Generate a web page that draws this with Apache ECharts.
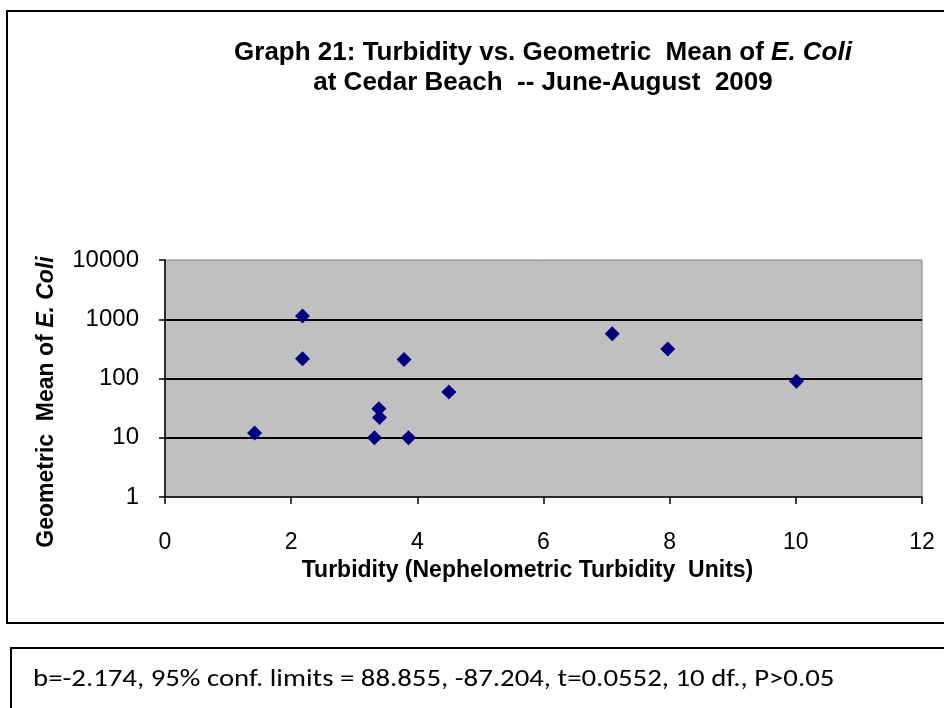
<!DOCTYPE html>
<html>
<head>
<meta charset="utf-8">
<script src="https://cdn.jsdelivr.net/npm/echarts@6/dist/echarts.min.js"></script>
<style>
  html, body { margin: 0; padding: 0; background: #fff; }
  #chart { width: 944px; height: 708px; }
</style>
</head>
<body>
<div id="chart"></div>
<script>
// ---- data ----
var turbidity = [1.42, 2.18, 2.18, 3.32, 3.39, 3.40, 3.79, 3.86, 4.50, 7.09, 7.97, 10.01];
var geoMeanEColi = [12, 1140, 215, 10, 31, 22, 210, 10, 59, 570, 315, 90];
var yGridValues = [10, 100, 1000];
var titleLine1 = 'Graph 21: Turbidity vs. Geometric  Mean of ';
var titleItalic = 'E. Coli';
var titleLine2 = 'at Cedar Beach  -- June-August  2009';
var xTitle = 'Turbidity (Nephelometric Turbidity  Units)';
var yTitle = 'Geometric  Mean of ';
var statsText = 'b=-2.174, 95% conf. limits = 88.855, -87.204, t=0.0552, 10 df., P>0.05';

var points = turbidity.map(function (x, i) { return [x, geoMeanEColi[i]]; });
var FONT = '"Liberation Sans", Arial, sans-serif';

var chart = echarts.init(document.getElementById('chart'), null, { renderer: 'canvas' });
chart.setOption({
  backgroundColor: '#ffffff',
  animation: false,
  grid: {
    left: 165, right: 22, top: 260, bottom: 211,
    show: true, backgroundColor: '#C0C0C0', borderColor: '#808080', borderWidth: 1
  },
  xAxis: {
    type: 'value', min: 0, max: 12, interval: 2,
    name: xTitle, nameLocation: 'middle', nameGap: 62,
    nameTextStyle: { fontFamily: FONT, fontWeight: 'bold', fontSize: 23, color: '#000', padding: [0, 32, 0, 0] },
    axisLine: { show: true, onZero: false, lineStyle: { color: '#000', width: 1.5 } },
    axisTick: { show: true, length: 7, lineStyle: { color: '#000', width: 1.5 } },
    axisLabel: { fontFamily: FONT, fontSize: 23, color: '#000', margin: 34 },
    splitLine: { show: false }
  },
  yAxis: {
    type: 'log', logBase: 10, min: 1, max: 10000,
    axisLine: { show: true, onZero: false, lineStyle: { color: '#000', width: 1.5 } },
    axisTick: { show: true, length: 6, lineStyle: { color: '#000', width: 1.5 } },
    axisLabel: {
      fontFamily: FONT, fontSize: 24, color: '#000', margin: 26,
      formatter: function (v) { return String(Math.round(v)); }
    },
    splitLine: { show: false }
  },
  graphic: [
    { type: 'rect', z: -10, silent: true,
      shape: { x: 7, y: 11, width: 960, height: 612 },
      style: { fill: 'none', stroke: '#000', lineWidth: 2 } },
    { type: 'rect', z: -10, silent: true,
      shape: { x: 11, y: 648, width: 960, height: 100 },
      style: { fill: 'none', stroke: '#000', lineWidth: 2 } },
    { type: 'text', x: 543, y: 53, silent: true,
      style: {
        text: '{b|' + titleLine1 + '}{i|' + titleItalic + '}',
        align: 'center', verticalAlign: 'middle',
        rich: {
          b: { fontFamily: FONT, fontWeight: 'bold', fontSize: 26, fill: '#000', color: '#000' },
          i: { fontFamily: FONT, fontWeight: 'bold', fontStyle: 'italic', fontSize: 26, fill: '#000', color: '#000' }
        }
      } },
    { type: 'text', x: 543, y: 83, silent: true,
      style: {
        text: titleLine2, align: 'center', verticalAlign: 'middle',
        font: 'bold 26px ' + FONT, fill: '#000'
      } },
    { type: 'text', x: 47, y: 402, rotation: Math.PI / 2, silent: true,
      style: {
        text: '{b|' + yTitle + '}{i|' + titleItalic + '}',
        align: 'center', verticalAlign: 'middle',
        rich: {
          b: { fontFamily: FONT, fontWeight: 'bold', fontSize: 23, fill: '#000', color: '#000' },
          i: { fontFamily: FONT, fontWeight: 'bold', fontStyle: 'italic', fontSize: 23, fill: '#000', color: '#000' }
        }
      } },
    { type: 'text', x: 33, y: 680, scaleX: 1.2, silent: true,
      style: {
        text: statsText, align: 'left', verticalAlign: 'middle',
        font: '24px Carlito, Lato, "Open Sans", sans-serif', fill: '#000'
      } }
  ],
  series: [{
    type: 'scatter',
    data: points,
    symbol: 'diamond',
    symbolSize: 15,
    itemStyle: { color: '#000080', opacity: 1 },
    markLine: {
      silent: true, symbol: ['none', 'none'], animation: false,
      label: { show: false },
      lineStyle: { color: '#000', width: 2, type: 'solid' },
      data: yGridValues.map(function (v) { return { yAxis: v }; })
    },
    z: 5
  }]
});
</script>
</body>
</html>
